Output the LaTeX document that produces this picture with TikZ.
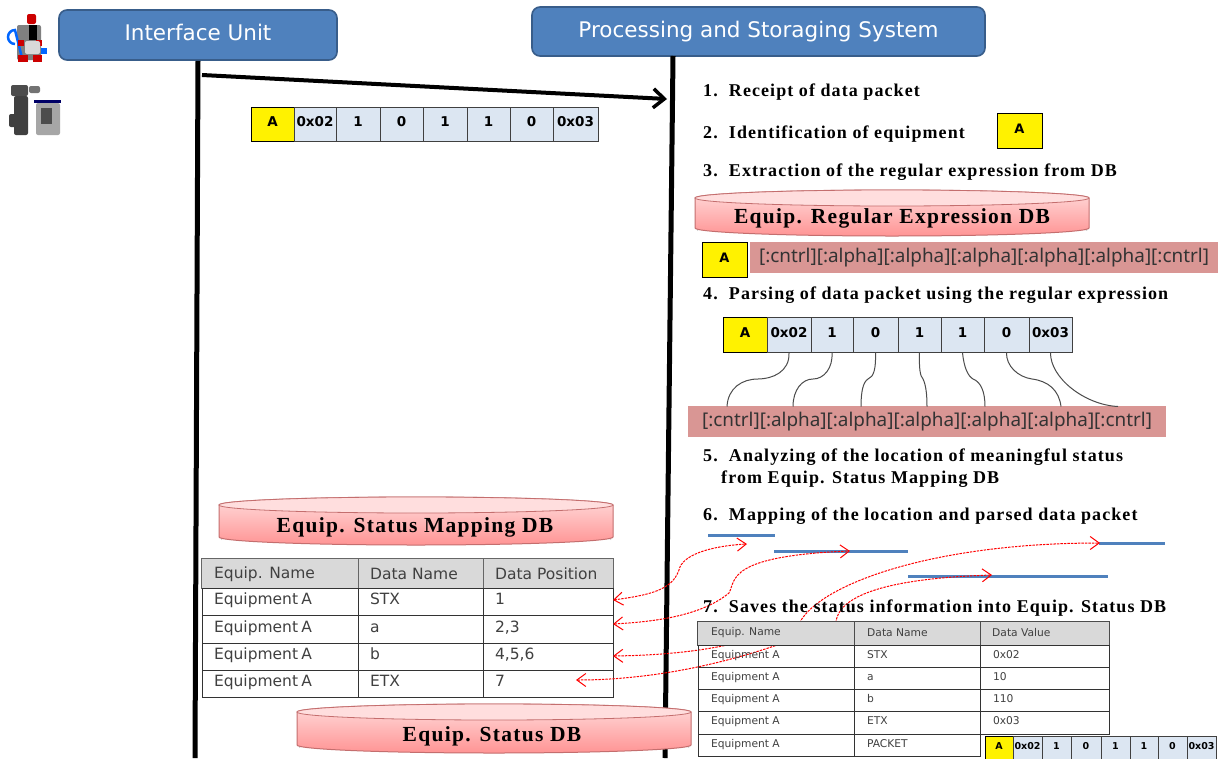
\documentclass[tikz,border=0pt]{standalone}
\usepackage{fontspec}
\setmainfont{Liberation Serif}
\newfontfamily\vfont{DejaVu Sans}
\newfontfamily\nfont{Noto Sans}
\newfontfamily\stepfont[LetterSpace=6]{Liberation Serif}
\usetikzlibrary{arrows.meta,calc}
\definecolor{bluebox}{HTML}{4F81BD}
\definecolor{blueedge}{HTML}{385D8A}
\definecolor{cellblue}{HTML}{DCE6F2}
\definecolor{pinkbar}{HTML}{D99694}
\definecolor{hdrgray}{HTML}{D9D9D9}
\definecolor{dbedge}{HTML}{C46E6E}
\definecolor{celledge}{HTML}{404040}
\definecolor{txtgray}{HTML}{404040}
\tikzset{
  titlebox/.style={draw=blueedge,line width=1.6pt,fill=bluebox,rounded corners=8pt,text=white,inner sep=0pt,text height=14pt,text depth=3pt,font=\vfont\fontsize{21.5}{24}\selectfont},
  steptext/.style={anchor=west,inner sep=0pt,font=\stepfont\bfseries\fontsize{18}{22}\selectfont},
  pktcell/.style={draw=celledge,line width=1pt,fill=cellblue,inner sep=0pt,text=black,text height={0.75*#1*1pt},text depth={0.35*#1*1pt},font=\vfont\bfseries\fontsize{#1}{#1}\selectfont},
  pattern bar/.style={fill=pinkbar,inner sep=0pt,text=black!80,font=\nfont\fontsize{18.9}{22}\selectfont},
  yellowA/.style={draw=black,line width=1pt,fill=yellow,inner sep=0pt,text height=10pt,text depth=5pt,font=\vfont\bfseries\fontsize{13}{13}\selectfont},
  tcell/.style={draw=black!80,line width=1pt,text=txtgray,align=left},
  lifeline/.style={line width=5pt,black},
  wire/.style={draw=black!70,line width=1pt},
  redarrow/.style={draw=red,line width=1pt,dash pattern=on 2.4pt off 1.1pt,{Straight Barb[length=9pt,width=13pt,line width=1pt]}-{Straight Barb[length=9pt,width=13pt,line width=1pt]}},
  bluebar/.style={draw=bluebox,line width=3pt},
  dblabel/.style={inner sep=0pt,font=\stepfont\bfseries\fontsize{21.5}{24}\selectfont},
  hdrtext/.style={anchor=west,text=txtgray,inner sep=0pt},
}
\newcommand\mfont{\vfont\fontsize{15.5}{17}\selectfont}
\newcommand\sfont{\vfont\fontsize{10.7}{12}\selectfont}
% \pcell{name}{x1}{x2}{y1}{y2}{size}{text}
\newcommand\pcell[7]{\node[pktcell=#6,minimum width={(#3-#2)*1pt},minimum height={(#5-#4)*1pt}] (#1) at ({(#2+#3)/2},{(#4+#5)/2}) {#7};}
\newcommand\acell[7]{\node[pktcell=#6,fill=yellow,draw=black,minimum width={(#3-#2)*1pt},minimum height={(#5-#4)*1pt}] (#1) at ({(#2+#3)/2},{(#4+#5)/2}) {#7};}
% \tc{name}{x1}{x2}{y1}{y2}{pad}{text}
\newcommand\tc[7]{\node[tcell,inner ysep=0pt,inner xsep=#6 pt,minimum height={(#5-#4)*1pt},text width={(#3-#2-2*#6)*1pt}] (#1) at ({(#2+#3)/2},{(#4+#5)/2}) {#7\strut};}
% \dbcyl{x1}{x2}{ytop}{ybot}{ry}
\newcommand\dbcyl[5]{%
  \fill[black!22] (#1+2,#3+#5+3) -- (#1+2,#4-#5+3) arc[start angle=180,end angle=360,x radius={(#2-#1-4)/2},y radius=#5] -- (#2-2,#3+#5+3) -- cycle;
  \path[draw=dbedge,line width=1pt,top color=red!14,bottom color=red!42!white] (#1,#3+#5) -- (#1,#4-#5) arc[start angle=180,end angle=360,x radius={(#2-#1)/2},y radius=-#5] -- (#2,#3+#5) arc[start angle=0,end angle=-180,x radius={(#2-#1)/2},y radius=#5] -- cycle;
  \path[draw=dbedge,line width=.8pt,fill=red!13] ({(#1+#2)/2},#3+#5) ellipse[x radius={(#2-#1)/2},y radius=#5];
}
\begin{document}
\begin{tikzpicture}[x=1pt,y=-1pt]
\useasboundingbox (0,0) rectangle (1218,758);
\fill[white] (0,0) rectangle (1218,758);

% equipment icons
\begin{scope}
 \fill[black!50,rounded corners=2pt] (17,25) rectangle (41,60);
 \draw[blue!60!cyan,line width=2.5pt] (15,44) arc[start angle=90,end angle=270,radius=7] -- (22,58);
 \fill[red!80!black,rounded corners=2pt] (27,14) rectangle (36,24);
 \fill[black] (29,25) rectangle (37,40);
 \fill[red!80!black] (18,40) rectangle (24,46);
 \fill[red!80!black] (36,40) rectangle (42,46);
 \fill[black!15,rounded corners=2pt] (25,41) rectangle (40,54);
 \fill[red!80!black] (18,55) rectangle (28,62);
 \fill[red!80!black] (33,55) rectangle (42,62);
 \fill[blue!60!cyan] (41,48) rectangle (47,54);
 \fill[black!70,rounded corners=2pt] (11,85) rectangle (28,96);
 \fill[black!55,rounded corners=2pt] (29,86) rectangle (40,93);
 \fill[black!75,rounded corners=2pt] (14,96) rectangle (28,135);
 \fill[black!75,rounded corners=2pt] (9,114) rectangle (16,127);
 \fill[blue!40!black] (34,100) rectangle (61,103);
 \fill[black!35,rounded corners=2pt] (36,103) rectangle (60,135);
 \fill[black!70] (41,108) rectangle (52,124);
\end{scope}

% title boxes
\node[titlebox,minimum width=278pt,minimum height=50pt] (iu) at (198,35) {Interface Unit};
\node[titlebox,minimum width=453pt,minimum height=49pt] (psu) at (758.5,31.5) {Processing and Storaging System};

% life lines
\coordinate (iuEnd) at (195,758);
\coordinate (psTop) at (673,56);
\coordinate (psEnd) at (665,758);
\draw[lifeline] (iu.south) -- (iuEnd);
\draw[lifeline] (psTop) -- (psEnd);
\coordinate (msgA) at (202,75);
\coordinate (msgB) at (667,99);
\draw[line width=4pt,-{Straight Barb[length=11pt,width=19pt,line width=3.5pt]}] (msgA) -- (msgB);

% first packet
\acell{a1}{251}{294}{107}{141}{13.5}{A}
\pcell{a2}{294}{336}{107}{141}{13.5}{0x02}
\pcell{a3}{336}{380}{107}{141}{13.5}{1}
\pcell{a4}{380}{423}{107}{141}{13.5}{0}
\pcell{a5}{423}{467}{107}{141}{13.5}{1}
\pcell{a6}{467}{510}{107}{141}{13.5}{1}
\pcell{a7}{510}{553}{107}{141}{13.5}{0}
\pcell{a8}{553}{598}{107}{141}{13.5}{0x03}

% steps
\node[steptext] (s1) at (703,92.5) {1.\ \ Receipt of data packet};
\node[steptext] (s2) at (703,134.5) {2.\ \ Identification of equipment};
\node[yellowA,minimum width=45pt,minimum height=35pt] (idA) at (1019.5,130.5) {A};
\node[steptext] (s3) at (703,172) {3.\ \ Extraction of the regular expression from DB};
\dbcyl{695}{1089}{190}{236}{8}
\node[dblabel] (db1) at (892,218) {Equip. Regular Expression DB};
\node[pattern bar,minimum width=468pt,minimum height=31pt] (bar1) at (984,257.5) {[:cntrl][:alpha][:alpha][:alpha][:alpha][:alpha][:cntrl]};
\node[yellowA,minimum width=45pt,minimum height=35pt] (barA) at (724.5,259.5) {A};
\node[steptext] (s4) at (703,295.5) {4.\ \ Parsing of data packet using the regular expression};

% second packet
\acell{b1}{723}{767}{317}{352}{13.5}{A}
\pcell{b2}{767}{811}{317}{352}{13.5}{0x02}
\pcell{b3}{811}{853}{317}{352}{13.5}{1}
\pcell{b4}{853}{898}{317}{352}{13.5}{0}
\pcell{b5}{898}{941}{317}{352}{13.5}{1}
\pcell{b6}{941}{984}{317}{352}{13.5}{1}
\pcell{b7}{984}{1029}{317}{352}{13.5}{0}
\pcell{b8}{1029}{1072}{317}{352}{13.5}{0x03}

\node[pattern bar,minimum width=478pt,minimum height=31pt] (bar2) at (927,421.5) {[:cntrl][:alpha][:alpha][:alpha][:alpha][:alpha][:cntrl]};
\draw[wire] (b2.south) .. controls (790,372) and (772,379) .. (758,379) .. controls (742,379) and (728,388) .. (727,406.5);
\draw[wire] (b3.south) .. controls (833,368) and (824,379) .. (813,379) .. controls (802,379) and (793,390) .. (793,406.5);
\draw[wire] (b4.south) .. controls (876,368) and (874,377) .. (868,379) .. controls (863,382) and (861,392) .. (861,406.5);
\draw[wire] (b5.south) .. controls (919,368) and (920,376) .. (923,379) .. controls (926,385) and (927,395) .. (927,406.5);
\draw[wire] (b6.south) .. controls (964,368) and (968,376) .. (973,379) .. controls (981,382) and (985,392) .. (985,406.5);
\draw[wire] (b7.south) .. controls (1006,366) and (1018,377) .. (1032,379) .. controls (1048,381) and (1059,390) .. (1061,406.5);
\coordinate (wireEnd) at (1118,406.5);
\draw[wire] (b8.south) .. controls (1050,378) and (1085,405) .. (wireEnd);

\node[steptext] (s5) at (703,457) {5.\ \ Analyzing of the location of meaningful status};
\node[steptext] (s5b) at (721,479) {from Equip. Status Mapping DB};
\node[steptext] (s6) at (703,516.5) {6.\ \ Mapping of the location and parsed data packet};

% blue location bars
\coordinate (p1a) at (708,535); \coordinate (p1b) at (775,535);
\coordinate (p2a) at (774,551); \coordinate (p2b) at (908,551);
\coordinate (p3a) at (1099,543); \coordinate (p3b) at (1165,543);
\coordinate (p4a) at (908,576); \coordinate (p4b) at (1108,576);
\draw[bluebar] (p1a) -- (p1b);
\draw[bluebar] (p2a) -- (p2b);
\draw[bluebar] (p3a) -- (p3b);
\draw[bluebar] (p4a) -- (p4b);

% left DB
\dbcyl{219}{613}{497}{545}{8}
\node[dblabel] (db2) at (415,527) {Equip. Status Mapping DB};

% mapping table
\tc{m11}{202}{358}{559}{588}{13}{}
\tc{m12}{358}{483}{559}{588}{13}{}
\tc{m13}{483}{613}{559}{588}{13}{}
\fill[hdrgray] (m11.north west) rectangle (m13.south east);
\draw[black!60,line width=1.5pt] (m11.north west) rectangle (m13.south east);
\draw[black!60,line width=1.5pt] (m11.north east) -- (m11.south east) (m12.north east) -- (m12.south east);
\node[hdrtext,font=\mfont] (hm1) at (214,574) {Equip. Name};
\node[hdrtext,font=\mfont] (hm2) at (370,574) {Data Name};
\node[hdrtext,font=\mfont] (hm3) at (495,574) {Data Position};
\tc{m21}{202}{358}{588}{615}{12}{\mfont Equipment A}
\tc{m22}{358}{483}{588}{615}{12}{\mfont STX}
\tc{m23}{483}{613}{588}{615}{12}{\mfont 1}
\tc{m31}{202}{358}{615}{643}{12}{\mfont Equipment A}
\tc{m32}{358}{483}{615}{643}{12}{\mfont a}
\tc{m33}{483}{613}{615}{643}{12}{\mfont 2,3}
\tc{m41}{202}{358}{643}{670}{12}{\mfont Equipment A}
\tc{m42}{358}{483}{643}{670}{12}{\mfont b}
\tc{m43}{483}{613}{643}{670}{12}{\mfont 4,5,6}
\tc{m51}{202}{358}{670}{697}{12}{\mfont Equipment A}
\tc{m52}{358}{483}{670}{697}{12}{\mfont ETX}
\tc{m53}{483}{613}{670}{697}{12}{\mfont 7}

% red mapping arrows
\coordinate (r1a) at (613,600); \coordinate (r1b) at (747,544);
\coordinate (r2a) at (613,624); \coordinate (r2b) at (850,551);
\coordinate (r3a) at (613,656); \coordinate (r3b) at (1100,543);
\coordinate (r4a) at (576,680); \coordinate (r4b) at (992,575);
\draw[redarrow] (r1a) .. controls (650,595) and (672,590) .. (679,570) .. controls (682,555) and (710,546) .. (r1b);
\draw[redarrow] (r2a) .. controls (650,622) and (700,617) .. (729,593) .. controls (736,580) and (726,556) .. (r2b);
\draw[redarrow] (r3a) .. controls (680,655) and (740,648) .. (800,622) .. controls (820,585) and (930,543) .. (r3b);
\draw[redarrow] (r4a) .. controls (660,680) and (750,660) .. (836,622) .. controls (840,585) and (930,577) .. (r4b);

\node[steptext] (s7) at (703,608.5) {7.\ \ Saves the status information into Equip. Status DB};

% status table
\tc{v11}{698}{854}{622}{645}{13}{}
\tc{v12}{854}{980}{622}{645}{13}{}
\tc{v13}{980}{1109}{622}{645}{13}{}
\fill[hdrgray] (v11.north west) rectangle (v13.south east);
\draw[black!70,line width=1.4pt] (v11.north west) rectangle (v13.south east);
\draw[black!70,line width=1.4pt] (v11.north east) -- (v11.south east) (v12.north east) -- (v12.south east);
\node[hdrtext,font=\sfont] (hv1) at (711,633) {Equip. Name};
\node[hdrtext,font=\sfont] (hv2) at (867,633) {Data Name};
\node[hdrtext,font=\sfont] (hv3) at (992,633) {Data Value};
\tc{v21}{698}{854}{645}{667}{13}{\sfont Equipment A}
\tc{v22}{854}{980}{645}{667}{13}{\sfont STX}
\tc{v23}{980}{1109}{645}{667}{13}{\sfont 0x02}
\tc{v31}{698}{854}{667}{689}{13}{\sfont Equipment A}
\tc{v32}{854}{980}{667}{689}{13}{\sfont a}
\tc{v33}{980}{1109}{667}{689}{13}{\sfont 10}
\tc{v41}{698}{854}{689}{711}{13}{\sfont Equipment A}
\tc{v42}{854}{980}{689}{711}{13}{\sfont b}
\tc{v43}{980}{1109}{689}{711}{13}{\sfont 110}
\tc{v51}{698}{854}{711}{734}{13}{\sfont Equipment A}
\tc{v52}{854}{980}{711}{734}{13}{\sfont ETX}
\tc{v53}{980}{1109}{711}{734}{13}{\sfont 0x03}
\tc{v61}{698}{854}{734}{756}{13}{\sfont Equipment A}
\tc{v62}{854}{980}{734}{756}{13}{\sfont PACKET}

% bottom DB
\dbcyl{297}{691}{704}{753}{8}
\node[dblabel] (db3) at (492,736) {Equip. Status DB};

% third packet
\acell{c1}{985}{1013}{736}{760}{9.5}{A}
\pcell{c2}{1013}{1042}{736}{760}{9.5}{0x02}
\pcell{c3}{1042}{1071}{736}{760}{9.5}{1}
\pcell{c4}{1071}{1101}{736}{760}{9.5}{0}
\pcell{c5}{1101}{1130}{736}{760}{9.5}{1}
\pcell{c6}{1130}{1158}{736}{760}{9.5}{1}
\pcell{c7}{1158}{1187}{736}{760}{9.5}{0}
\pcell{c8}{1187}{1216}{736}{760}{9.5}{0x03}
\end{tikzpicture}
\end{document}
